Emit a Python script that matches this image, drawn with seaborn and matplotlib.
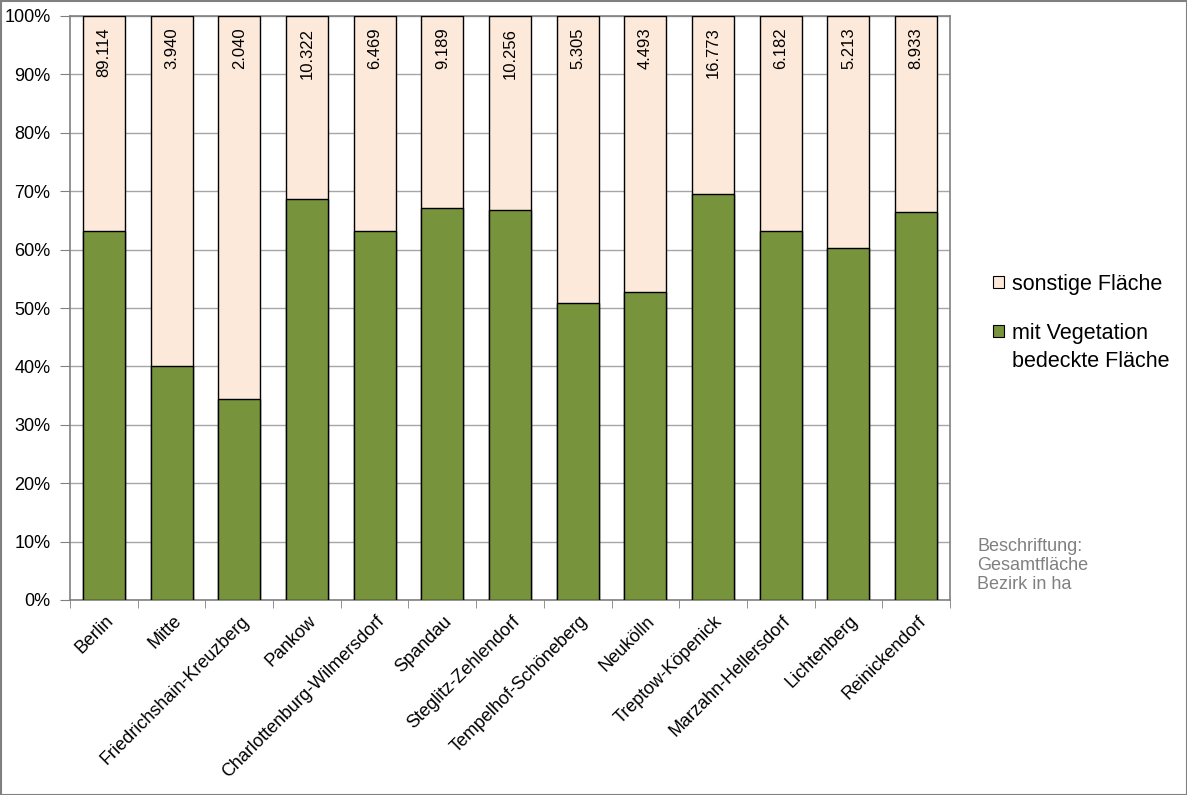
import matplotlib
matplotlib.use("Agg")
import matplotlib.pyplot as plt
import seaborn as sns
import pandas as pd
from matplotlib.patches import Patch
from matplotlib.ticker import FuncFormatter, MultipleLocator
import matplotlib.transforms as mtransforms

bezirke = ["Berlin", "Mitte", "Friedrichshain-Kreuzberg", "Pankow",
           "Charlottenburg-Wilmersdorf", "Spandau", "Steglitz-Zehlendorf",
           "Tempelhof-Schöneberg", "Neukölln", "Treptow-Köpenick",
           "Marzahn-Hellersdorf", "Lichtenberg", "Reinickendorf"]
vegetation = [63.1, 40.0, 34.4, 68.6, 63.1, 67.2, 66.7, 50.8, 52.7, 69.6, 63.1, 60.3, 66.4]
sonstige = [100 - v for v in vegetation]
gesamt_labels = ["89.114", "3.940", "2.040", "10.322", "6.469", "9.189", "10.256",
                 "5.305", "4.493", "16.773", "6.182", "5.213", "8.933"]

df = pd.DataFrame({"Bezirk": bezirke, "veg": vegetation, "sonst": sonstige})
df["total"] = df["veg"] + df["sonst"]

sns.set_style("white")
plt.rcParams["font.family"] = ["Liberation Sans", "DejaVu Sans"]
plt.rcParams["text.color"] = "black"
plt.rcParams["xtick.labelcolor"] = "black"
plt.rcParams["ytick.labelcolor"] = "black"

GREEN = "#77933C"
PEACH = "#FDE9D9"
W, H = 1187, 795

fig = plt.figure(figsize=(W / 100, H / 100), dpi=100)
ax = fig.add_axes([70 / W, 1 - 600 / H, 880 / W, 584 / H])

sns.barplot(data=df, x="Bezirk", y="total", color=PEACH, width=0.62,
            edgecolor="black", linewidth=1, saturation=1, ax=ax, zorder=3)
sns.barplot(data=df, x="Bezirk", y="veg", color=GREEN, width=0.62,
            edgecolor="black", linewidth=1, saturation=1, ax=ax, zorder=4)

ax.set_xlim(-0.5, len(bezirke) - 0.5)
ax.set_ylim(0, 100)
ax.yaxis.set_major_locator(MultipleLocator(10))
ax.yaxis.set_major_formatter(FuncFormatter(lambda v, p: f"{int(round(v))}%"))
ax.grid(axis="y", color="#a6a6a6", linewidth=1, zorder=0)
ax.set_axisbelow(True)
ax.set_xlabel("")
ax.set_ylabel("")

for s in ax.spines.values():
    s.set_color("#808080")
    s.set_linewidth(1.2)
    s.set_visible(True)

ax.tick_params(axis="y", labelsize=13, length=7, color="#808080", labelcolor="black",
               left=True, pad=7)
ax.set_xticks(range(len(bezirke)))
ax.set_xticklabels(bezirke, rotation=45, ha="right", va="top",
                   rotation_mode="anchor", fontsize=13, color="black")
ax.tick_params(axis="x", length=0, pad=9)
offset = mtransforms.ScaledTranslation(1 / 100, 0, fig.dpi_scale_trans)
for lab in ax.get_xticklabels():
    lab.set_transform(lab.get_transform() + offset)
ax.set_xticks([i - 0.5 for i in range(len(bezirke) + 1)], minor=True)
ax.tick_params(axis="x", which="minor", length=6, color="#808080", bottom=True)

for i, lab in enumerate(gesamt_labels):
    ax.text(i, 98, lab, rotation=90, ha="center", va="top", fontsize=12,
            color="black", zorder=5)

handles = [Patch(facecolor=PEACH, edgecolor="black", linewidth=0.8, label="sonstige Fläche"),
           Patch(facecolor=GREEN, edgecolor="black", linewidth=0.8, label="mit Vegetation")]
leg = fig.legend(handles=handles, loc="upper left", bbox_to_anchor=(993 / W, 1 - 274 / H),
                 frameon=False, fontsize=15.5, handlelength=0.5, handleheight=0.5,
                 handletextpad=0.37, labelspacing=1.3, borderpad=0, borderaxespad=0,
                 labelcolor="black")
fig.text(1012 / W, 1 - 367 / H, "bedeckte Fläche", fontsize=15.5, ha="left",
         va="baseline", color="black")

fig.text(977 / W, 1 - 538 / H, "Beschriftung:\nGesamtfläche\nBezirk in ha",
         color="#808080", fontsize=13, va="top", ha="left", linespacing=1.15)

border = plt.Rectangle((0.5 / W, 0.5 / H), 1 - 1 / W, 1 - 1 / H,
                       transform=fig.transFigure, fill=False,
                       edgecolor="#808080", linewidth=1.5)
fig.add_artist(border)

fig.savefig("out.png", dpi=100, facecolor="white")
